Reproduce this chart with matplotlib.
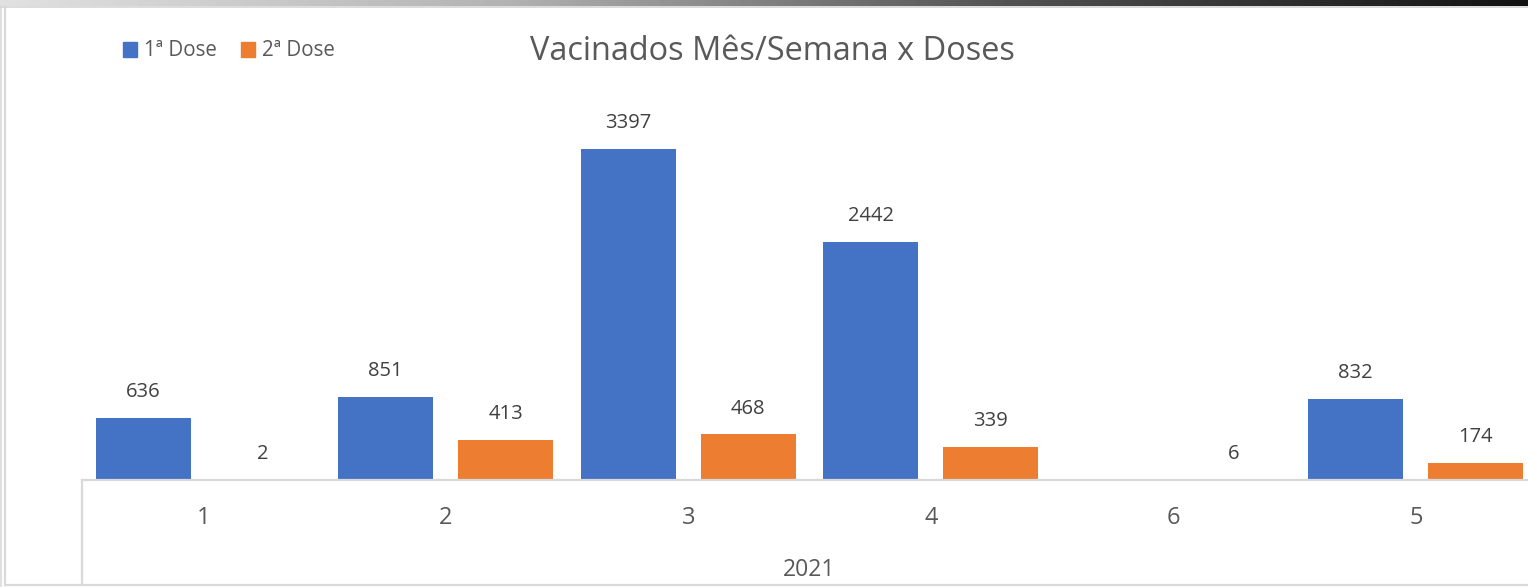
import numpy as np
import matplotlib
matplotlib.use("Agg")
import matplotlib.pyplot as plt
from matplotlib.patches import Patch
from matplotlib.lines import Line2D

plt.rcParams['font.family'] = ['Open Sans', 'DejaVu Sans']

categories = ["1", "2", "3", "4", "6", "5"]
year_label = "2021"
dose1 = [636, 851, 3397, 2442, np.nan, 832]
dose2 = [2, 413, 468, 339, 6, 174]
series_names = ["1ª Dose", "2ª Dose"]
title = "Vacinados Mês/Semana x Doses"

BLUE = "#4472C4"
ORANGE = "#ED7D31"
W, H = 1528, 587
fig = plt.figure(figsize=(W / 100, H / 100), dpi=100)

def fx(px):
    return px / W

def fy(py):
    return 1 - py / H

# axes: left 82 px, baseline 480 px, right 1537 px (beyond crop), top 100 px
ax_left, ax_right, ax_top, ax_bot = 82, 1537, 100, 480
ax = fig.add_axes([fx(ax_left), fy(ax_bot), (ax_right - ax_left) / W, (ax_bot - ax_top) / H])
px_per_unit = 331 / 3397
ax.set_ylim(0, (ax_bot - ax_top) / px_per_unit)
ax.set_xlim(-0.5, len(categories) - 0.5)

x = np.arange(len(categories))
bw = 0.392
off = 0.2474
b1 = ax.bar(x - off, dose1, bw, color=BLUE, label=series_names[0])
b2 = ax.bar(x + off, dose2, bw, color=ORANGE, label=series_names[1])

for bars, vals in ((b1, dose1), (b2, dose2)):
    for rect, v in zip(bars, vals):
        if np.isnan(v):
            continue
        ax.annotate(f"{int(v)}", (rect.get_x() + rect.get_width() / 2, v),
                    xytext=(0, 18.5), textcoords="offset points",
                    ha="center", va="center", fontsize=14.5, color="#404040")

for s in ax.spines.values():
    s.set_visible(False)
ax.set_yticks([])
ax.set_xticks([])

# category labels
for xi, c in zip(x, categories):
    ax.annotate(c, (xi, 0), xytext=(0, -(518 - 480) * 0.72), textcoords="offset points",
                ha="center", va="center", fontsize=17, color="#595959", annotation_clip=False)
ax.annotate(year_label, ((x[0] + x[-1]) / 2, 0), xytext=(0, -(570 - 480) * 0.72),
            textcoords="offset points", ha="center", va="center", fontsize=16.5,
            color="#595959", annotation_clip=False)

grid_c = "#D9D9D9"
# category axis box
fig.add_artist(Line2D([fx(82), 1.0], [fy(480), fy(480)], color=grid_c, lw=1.6))
fig.add_artist(Line2D([fx(82), fx(82)], [fy(480), fy(584)], color=grid_c, lw=1.6))
# outer border
fig.add_artist(Line2D([fx(4.5), 1.0], [fy(584.5), fy(584.5)], color=grid_c, lw=1.6))
fig.add_artist(Line2D([fx(4.5), fx(4.5)], [fy(7), fy(585)], color=grid_c, lw=1.6))
fig.add_artist(Line2D([fx(1), fx(1)], [fy(7), 0], color="#E0E0E0", lw=1.5))

# top gradient strip
gx = np.linspace(0, 1, 400)
gv = np.interp(gx, [0, 0.33, 0.65, 1.0], [0.88, 0.70, 0.33, 0.07])
strip = fig.add_axes([0, fy(6), 1, 6 / H])
strip.imshow(gv[None, :], aspect="auto", cmap="gray", vmin=0, vmax=1, extent=[0, 1, 0, 1])
strip.axis("off")
fig.add_artist(Line2D([0, 1], [fy(6.5), fy(6.5)], color="#D6D6D6", lw=1.2))

# title
fig.text(fx(772), fy(52), title, ha="center", va="center", fontsize=23.4, color="#595959")

# legend
handles = [Patch(color=BLUE), Patch(color=ORANGE)]
fig.legend(handles, series_names, loc="center left", bbox_to_anchor=(fx(123), fy(51)),
           ncol=2, frameon=False, fontsize=14.8, labelcolor="#595959",
           handlelength=0.7, handleheight=0.7, handletextpad=0.3, columnspacing=1.2,
           borderaxespad=0, borderpad=0)

fig.savefig("out.png", dpi=100, facecolor="white")
